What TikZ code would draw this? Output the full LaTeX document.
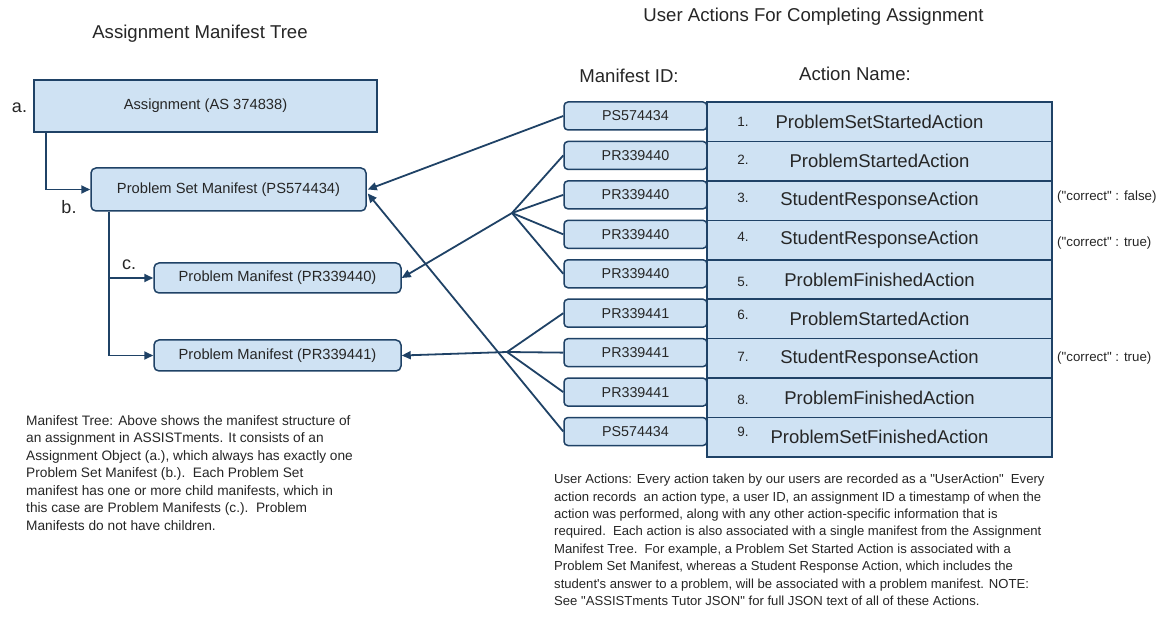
\documentclass[tikz,border=0pt]{standalone}
\usepackage{fontspec}
\setmainfont{Liberation Sans}[Ligatures=TeXOff]
\usetikzlibrary{arrows.meta,calc}
\definecolor{boxfill}{HTML}{CFE2F3}
\definecolor{navy}{HTML}{1F4266}
\begin{document}
\begin{tikzpicture}[x=1pt,y=-1pt,
  box/.style={draw=navy, fill=boxfill, line width=1.5pt, inner sep=0pt, font=\fontsize{14.7}{17}\selectfont, text=black!85},
  rbox/.style={box, rounded corners=5pt},
  idbox/.style={box, rounded corners=4pt, minimum width=143pt, minimum height=28pt, font=\fontsize{14.3}{17}\selectfont},
  actrow/.style={box, minimum width=345pt, minimum height=39.44pt, font=\fontsize{18.5}{22}\selectfont},
  numtxt/.style={inner sep=0pt, font=\fontsize{13.5}{16}\selectfont, text=black!85},
  lbl/.style={inner sep=0pt, font=\fontsize{18}{21}\selectfont, text=black!85},
  ttl/.style={inner sep=0pt, font=\fontsize{18.6}{22}\selectfont, text=black!85},
  corr/.style={inner sep=0pt, anchor=west, font=\fontsize{13.3}{16}\selectfont, text=black!85},
  para/.style={inner sep=0pt, align=left, anchor=north west, font=\fontsize{13.7}{17.5}\selectfont, text=black!85},
  conn/.style={draw=navy, line width=1.8pt},
  arr/.style={conn, -{Triangle[length=9pt,width=8pt]}}
]
\useasboundingbox (0,0) rectangle (1168,617);
\fill[white] (0,0) rectangle (1168,617);

% titles
\node[ttl] (t1) at (200,33.5) {Assignment Manifest Tree};
\node[ttl] (t2) at (813.5,17) {User Actions For Completing Assignment};
\node[ttl] (t3) at (629,76) {Manifest ID:};
\node[ttl] (t4) at (855,73.5) {Action Name:};

% tree
\node[box, minimum width=343pt, minimum height=52pt] (as) at (205.5,106) {Assignment (AS 374838)};
\node[rbox, minimum width=275pt, minimum height=43pt] (ps) at (228.5,189.5) {Problem Set Manifest (PS574434)};
\node[rbox, minimum width=247pt, minimum height=30pt] (pm1) at (277.5,278) {Problem Manifest (PR339440)};
\node[rbox, minimum width=247pt, minimum height=31pt] (pm2) at (277.5,355.5) {Problem Manifest (PR339441)};

\node[lbl] (la) at (19.5,108) {a.};
\node[lbl] (lb) at (69,207) {b.};
\node[lbl] (lc) at (129,265) {c.};

\draw[arr] ($(as.south west)+(13,0)$) |- (ps.west);
\draw[arr] ($(ps.south west)+(19,0)$) |- (pm1.west);
\draw[arr] ($(ps.south west)+(19,0)$) |- (pm2.west);

% manifest id boxes
\foreach \i/\id in {1/PS574434,2/PR339440,3/PR339440,4/PR339440,5/PR339440,6/PR339441,7/PR339441,8/PR339441,9/PS574434}{
  \pgfmathsetmacro\yc{102+(\i-1)*39.44+14}
  \node[idbox] (id\i) at (635.5,\yc) {\id};
}

% action table
\foreach \i/\nm/\dy in {1/ProblemSetStartedAction/0,2/ProblemStartedAction/-1,3/StudentResponseAction/-3,4/StudentResponseAction/-3,5/ProblemFinishedAction/2,6/ProblemStartedAction/-4,7/StudentResponseAction/-2,8/ProblemFinishedAction/2,9/ProblemSetFinishedAction/-5}{
  \pgfmathsetmacro\yc{102+(\i-0.5)*39.44}
  \node[actrow] (a\i) at (879.5,\yc) {\nm};
  \node[numtxt] (n\i) at (743,\yc+\dy) {\i.};
}

\node[corr] (c3) at (1057,197) {("correct" : false)};
\node[corr] (c4) at (1057,243) {("correct" : true)};
\node[corr] (c7) at (1057,358) {("correct" : true)};

% connectors
\coordinate (j1) at (512,213);
\coordinate (j2) at (507,352);
\draw[arr] (id1.west) -- ($(ps.east)+(1,0)$);
\draw[arr] (id9.west) -- ($(ps.east)+(1,4)$);
\foreach \k in {2,...,5} \draw[conn] (id\k.west) -- (j1);
\draw[arr] (j1) -- (pm1.east);
\foreach \k in {6,7,8} \draw[conn] (id\k.west) -- (j2);
\draw[arr] (j2) -- (pm2.east);

% paragraphs
\node[para] (p1) at (26,415) {Manifest Tree: Above shows the manifest structure of\\
an assignment in ASSISTments. It consists of an\\
Assignment Object (a.), which always has exactly one\\
Problem Set Manifest (b.).\ \ Each Problem Set\\
manifest has one or more child manifests, which in\\
this case are Problem Manifests (c.).\ \ Problem\\
Manifests do not have children.};

\node[para, font=\fontsize{13.1}{17.4}\selectfont] (p2) at (554,474) {User Actions: Every action taken by our users are recorded as a "UserAction"\ \ Every\\
action records\ \ an action type, a user ID, an assignment ID a timestamp of when the\\
action was performed, along with any other action-specific information that is\\
required.\ \ Each action is also associated with a single manifest from the Assignment\\
Manifest Tree.\ \ For example, a Problem Set Started Action is associated with a\\
Problem Set Manifest, whereas a Student Response Action, which includes the\\
student's answer to a problem, will be associated with a problem manifest. NOTE:\\
See "ASSISTments Tutor JSON" for full JSON text of all of these Actions.};
\end{tikzpicture}
\end{document}
